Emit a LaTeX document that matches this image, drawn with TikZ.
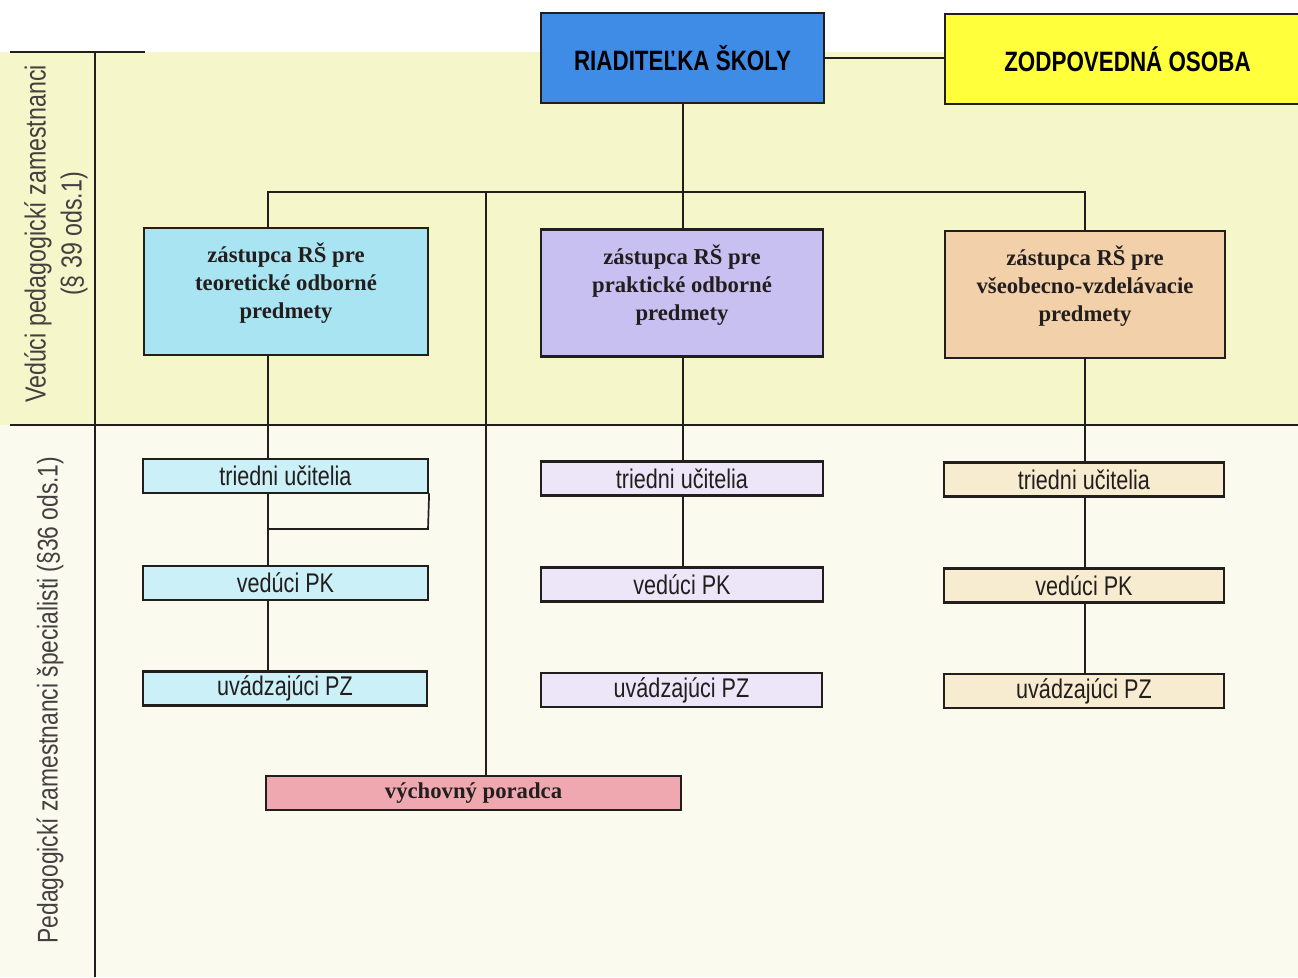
\documentclass[tikz,border=0pt]{standalone}
\usepackage{fontspec}
\setmainfont{Liberation Serif}
\newfontfamily\narrowsans[FakeStretch=0.8]{Liberation Sans}
\definecolor{bgtop}{RGB}{245,246,202}
\definecolor{bgbot}{RGB}{250,250,238}
\definecolor{dirblue}{RGB}{62,140,230}
\definecolor{zoyel}{RGB}{255,255,60}
\definecolor{cyanA}{RGB}{168,228,242}
\definecolor{lavA}{RGB}{200,192,240}
\definecolor{peachA}{RGB}{242,208,170}
\definecolor{cyanB}{RGB}{204,240,248}
\definecolor{lavB}{RGB}{236,230,248}
\definecolor{peachB}{RGB}{248,236,208}
\definecolor{pinkA}{RGB}{240,168,176}
\definecolor{ink}{RGB}{35,30,30}
\begin{document}
\begin{tikzpicture}[x=1pt,y=-1pt,
  conn/.style={draw=ink,line width=1.7pt},
  boxbase/.style={draw=ink,line width=2.2pt,inner sep=0pt,anchor=center,align=center},
  topbox/.style={boxbase,minimum height=90pt,font=\narrowsans\bfseries\fontsize{28}{32}\selectfont},
  deptext/.style={align=center,inner sep=0pt,text=ink,font=\bfseries\fontsize{22.7}{28}\selectfont},
  depbox/.style={boxbase,minimum width=282pt,minimum height=127pt},
  subbox/.style={boxbase,minimum width=284pt,minimum height=34pt,text=ink,font=\narrowsans\fontsize{27}{30}\selectfont},
  sidelab/.style={rotate=90,align=center,text=ink!85,font=\narrowsans\fontsize{29}{36}\selectfont}]
\useasboundingbox (0,0) rectangle (1298,977);
% backgrounds
\fill[white] (0,0) rectangle (1298,977);
\fill[bgtop] (0,52) rectangle (1298,425);
\fill[bgbot] (0,425) rectangle (1298,977);
% frame lines
\draw[conn] (10,52) -- (145,52);
\draw[conn] (95,52) -- (95,977);
\draw[conn] (10,425) -- (1298,425);
% side labels
\node[sidelab] (lab1) at (56,234) {Vedúci pedagogickí zamestnanci\\(§ 39 ods.1)};
\node[sidelab,font=\narrowsans\fontsize{28.5}{36}\selectfont] (lab2) at (50,700) {Pedagogickí zamestnanci špecialisti (§36 ods.1)};
% top
\node[topbox,fill=dirblue,minimum width=283pt] (dir) at (682.5,58) {RIADITEĽKA ŠKOLY};
\node[topbox,fill=zoyel,minimum width=365pt] (zo) at (1127.5,59) {ZODPOVEDNÁ OSOBA};
% deputies
\node[depbox,fill=cyanA,minimum width=284pt,label={[deptext,yshift=8pt]center:{zástupca RŠ pre\\teoretické odborné\\predmety}}] (z1) at (286,291.5) {};
\node[depbox,fill=lavA,label={[deptext,yshift=8pt]center:{zástupca RŠ pre\\praktické odborné\\predmety}}] (z2) at (682,293) {};
\node[depbox,fill=peachA,minimum width=280pt,label={[deptext,yshift=8pt]center:{zástupca RŠ pre\\všeobecno-vzdelávacie\\predmety}}] (z3) at (1085,294.5) {};
% column 1
\node[subbox,fill=cyanB,minimum width=285pt] (t1) at (285.5,476) {triedni učitelia};
\node[subbox,fill=cyanB,minimum width=285pt] (v1) at (285.5,583) {vedúci PK};
\node[subbox,fill=cyanB] (u1) at (285,688.5) {uvádzajúci PZ};
% column 2
\node[subbox,fill=lavB,minimum width=282pt] (t2) at (682,478.5) {triedni učitelia};
\node[subbox,fill=lavB,minimum width=282pt] (v2) at (682,584.5) {vedúci PK};
\node[subbox,fill=lavB,minimum width=281pt] (u2) at (681.5,690) {uvádzajúci PZ};
% column 3
\node[subbox,fill=peachB,minimum width=280pt] (t3) at (1084,479.5) {triedni učitelia};
\node[subbox,fill=peachB,minimum width=280pt] (v3) at (1084,585.5) {vedúci PK};
\node[subbox,fill=peachB,minimum width=280pt] (u3) at (1084,691) {uvádzajúci PZ};
% advisor
\node[boxbase,fill=pinkA,minimum width=415pt,minimum height=34pt,text=ink,font=\bfseries\fontsize{22.7}{26}\selectfont] (vp) at (473.5,793) {výchovný poradca};
% connectors
\coordinate (bus) at (683,192);
\coordinate (c1) at (268,0);
\coordinate (vptop) at (486,776);
\draw[conn] (dir.east) -- (zo.west |- dir.east);
\draw[conn] (dir.south -| bus) -- (bus);
\draw[conn] (z1.north -| c1) |- (bus) -| (z3.north);
\draw[conn] (z2.north -| bus) -- (bus);
\draw[conn] (vptop) -- (vptop |- bus);
% column 1 links
\draw[conn] (z1.south -| c1) -- (t1.north -| c1);
\draw[conn] (t1.south -| c1) -- (v1.north -| c1);
\coordinate (br) at (428,529);
\draw[conn,line cap=rect] (t1.south east) -- (br) -- (br -| c1);
\draw[conn] (v1.south -| c1) -- (u1.north -| c1);
% column 2 links
\draw[conn] (z2.south -| bus) -- (t2.north -| bus);
\draw[conn] (t2.south -| bus) -- (v2.north -| bus);
% column 3 links
\draw[conn] (z3.south) -- (t3.north -| z3.south);
\draw[conn] (t3.south -| z3.south) -- (v3.north -| z3.south);
\draw[conn] (v3.south -| z3.south) -- (u3.north -| z3.south);
\end{tikzpicture}
\end{document}
